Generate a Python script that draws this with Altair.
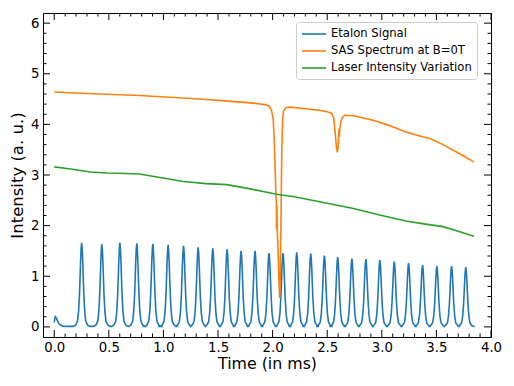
import altair as alt
import pandas as pd

# ---------------- data ----------------
series_names = ["Etalon Signal", "SAS Spectrum at B=0T", "Laser Intensity Variation"]
series_colors = ["#1f77b4", "#ff7f0e", "#2ca02c"]

# Etalon: initial small bump, then transmission peaks (centre time, height)
bump_t = [0.0, 0.005, 0.010, 0.018, 0.030, 0.045, 0.060, 0.080, 0.110]
bump_v = [0.09, 0.16, 0.20, 0.18, 0.12, 0.06, 0.03, 0.015, 0.01]
etalon_peak_t = [0.251, 0.436, 0.601, 0.756, 0.903, 1.043, 1.184, 1.318, 1.452,
                 1.583, 1.711, 1.839, 1.967, 2.095, 2.221, 2.349, 2.474, 2.596,
                 2.726, 2.854, 2.982, 3.114, 3.245, 3.373, 3.504, 3.639, 3.769]
etalon_peak_h = [1.66, 1.63, 1.66, 1.65, 1.64, 1.62, 1.60, 1.57, 1.55,
                 1.53, 1.50, 1.50, 1.46, 1.46, 1.47, 1.45, 1.41, 1.38,
                 1.35, 1.34, 1.32, 1.29, 1.26, 1.22, 1.20, 1.20, 1.18]
# peak shape read from one peak: offset (ms) and fraction of peak height
profile_dt = [-0.075, -0.055, -0.038, -0.028, -0.020, -0.015, -0.010, -0.005, 0.0,
              0.005, 0.010, 0.015, 0.020, 0.028, 0.038, 0.055, 0.075]
profile_rel = [0.0, 0.015, 0.06, 0.18, 0.38, 0.57, 0.77, 0.93, 1.0,
               0.93, 0.77, 0.57, 0.38, 0.18, 0.06, 0.015, 0.0]
etalon_base = 0.01
etalon_end_t = 3.85

sas_t = [0.0, 0.3, 0.78, 1.1, 1.39, 1.6, 1.82, 1.93, 1.97, 1.99, 2.005, 2.015,
         2.025, 2.031, 2.034, 2.036, 2.039, 2.042, 2.050, 2.058, 2.064, 2.070,
         2.077, 2.084, 2.092, 2.10, 2.12, 2.16, 2.30, 2.43, 2.50, 2.54, 2.56,
         2.575, 2.586, 2.593, 2.600, 2.606, 2.609, 2.611, 2.615, 2.625, 2.638,
         2.66, 2.74, 2.82, 2.92, 3.04, 3.13, 3.22, 3.38, 3.44, 3.56, 3.68, 3.77, 3.843]
sas_v = [4.64, 4.61, 4.57, 4.53, 4.49, 4.46, 4.42, 4.39, 4.36, 4.28, 4.10, 3.70,
         3.00, 2.55, 2.48, 1.93, 2.40, 1.95, 1.50, 0.90, 0.57, 0.95,
         2.20, 3.50, 4.10, 4.26, 4.33, 4.34, 4.31, 4.28, 4.25, 4.22, 4.12,
         3.79, 3.52, 3.45, 3.55, 3.80, 3.92, 3.75, 3.90, 4.05, 4.13,
         4.18, 4.17, 4.13, 4.08, 4.00, 3.93, 3.85, 3.75, 3.72, 3.60, 3.46, 3.35, 3.26]

laser_t = [0.0, 0.15, 0.33, 0.48, 0.65, 0.78, 0.94, 1.05, 1.18, 1.39, 1.58, 1.76, 1.97,
           2.035, 2.2, 2.43, 2.74, 2.98, 3.22, 3.4, 3.56, 3.7, 3.843]
laser_v = [3.16, 3.12, 3.06, 3.04, 3.03, 3.02, 2.96, 2.92, 2.87, 2.83, 2.81, 2.74, 2.65,
           2.62, 2.57, 2.47, 2.34, 2.21, 2.09, 2.03, 1.98, 1.89, 1.79]

x_major = [0.0, 0.5, 1.0, 1.5, 2.0, 2.5, 3.0, 3.5, 4.0]
x_minor = [0.1, 0.2, 0.3, 0.4, 0.6, 0.7, 0.8, 0.9, 1.1, 1.2, 1.3, 1.4, 1.6, 1.7,
           1.8, 1.9, 2.1, 2.2, 2.3, 2.4, 2.6, 2.7, 2.8, 2.9, 3.1, 3.2, 3.3, 3.4,
           3.6, 3.7, 3.8, 3.9]
y_major = [0, 1, 2, 3, 4, 5, 6]
y_minor = [0.2, 0.4, 0.6, 0.8, 1.2, 1.4, 1.6, 1.8, 2.2, 2.4, 2.6, 2.8, 3.2, 3.4,
           3.6, 3.8, 4.2, 4.4, 4.6, 4.8, 5.2, 5.4, 5.6, 5.8]

x_domain = [-0.103, 4.0]
y_domain = [-0.2, 6.2]

# ---------------- build table ----------------
rows = []
for t, v in zip(bump_t, bump_v):
    rows.append((t, v, series_names[0]))
for pt, ph in zip(etalon_peak_t, etalon_peak_h):
    for dt, r in zip(profile_dt, profile_rel):
        rows.append((pt + dt, etalon_base + (ph - etalon_base) * r, series_names[0]))
rows.append((etalon_end_t, etalon_base, series_names[0]))
for t, v in zip(sas_t, sas_v):
    rows.append((t, v, series_names[1]))
for t, v in zip(laser_t, laser_v):
    rows.append((t, v, series_names[2]))
df = pd.DataFrame(rows, columns=["t", "v", "series"])
df["order"] = range(len(df))

W, H = 448, 324
FONT = "DejaVu Sans"
TICK_FS = 13.3
xs = alt.Scale(domain=x_domain, nice=False, zero=False)
ys = alt.Scale(domain=y_domain, nice=False, zero=False)

x_axis = alt.Axis(values=x_major, format=".1f", ticks=False, domain=False,
                  grid=False, labelFontSize=TICK_FS, labelFont=FONT,
                  labelColor="black", labelPadding=3, titleFont=FONT,
                  titleFontSize=15.8, titleFontWeight="normal",
                  titleColor="black", titlePadding=3, labelFlush=False)
y_axis = alt.Axis(values=y_major, format="d", ticks=False, domain=False,
                  grid=False, labelFontSize=TICK_FS, labelFont=FONT,
                  labelColor="black", labelPadding=4, titleFont=FONT,
                  titleFontSize=16.5, titleFontWeight="normal",
                  titleColor="black", titlePadding=5, labelFlush=False)
X_TITLE = "Time (in ms)"
Y_TITLE = "Intensity (a. u.)"

lines = alt.Chart(df).mark_line(strokeWidth=1.6).encode(
    x=alt.X("t:Q", scale=xs, title=X_TITLE, axis=x_axis),
    y=alt.Y("v:Q", scale=ys, title=Y_TITLE, axis=y_axis),
    color=alt.Color("series:N", scale=alt.Scale(domain=series_names, range=series_colors),
                    sort=series_names,
                    legend=alt.Legend(title=None, orient="none", legendX=253, legendY=9,
                                      symbolType="M-2,0H2", symbolSize=144,
                                      symbolStrokeWidth=1.6, symbolOffset=6,
                                      labelFontSize=11.6, labelFont=FONT, labelColor="black",
                                      labelOffset=10, labelLimit=300, rowPadding=4,
                                      padding=5, fillColor="white", strokeColor="#cccccc",
                                      cornerRadius=3)),
    order="order:Q",
)

xmaj = pd.DataFrame({"t": x_major})
xmin = pd.DataFrame({"t": x_minor})
ymaj = pd.DataFrame({"v": y_major})
ymin = pd.DataFrame({"v": y_minor})

def xticks(d, y0, y1):
    return alt.Chart(d).mark_rule(color="black", strokeWidth=1).encode(
        x=alt.X("t:Q", scale=xs, title=X_TITLE, axis=x_axis),
        y=alt.value(y0), y2=alt.value(y1))

def yticks(d, x0, x1):
    return alt.Chart(d).mark_rule(color="black", strokeWidth=1).encode(
        y=alt.Y("v:Q", scale=ys, title=Y_TITLE, axis=y_axis),
        x=alt.value(x0), x2=alt.value(x1))

MJ, MN = 7, 3.5
ticks = [
    xticks(xmaj, H - MJ, H), xticks(xmin, H - MN, H),
    xticks(xmaj, 0, MJ), xticks(xmin, 0, MN),
    yticks(ymaj, 0, MJ), yticks(ymin, 0, MN),
    yticks(ymaj, W - MJ, W), yticks(ymin, W - MN, W),
]

chart = alt.layer(lines, *ticks).properties(
    width=W, height=H,
    autosize=alt.AutoSizeParams(type="none"),
    padding={"left": 35, "top": 5, "right": 15, "bottom": 41},
).configure_view(stroke="black", strokeWidth=1)

chart.save("out.html", embed_options={"renderer": "svg", "actions": False})
